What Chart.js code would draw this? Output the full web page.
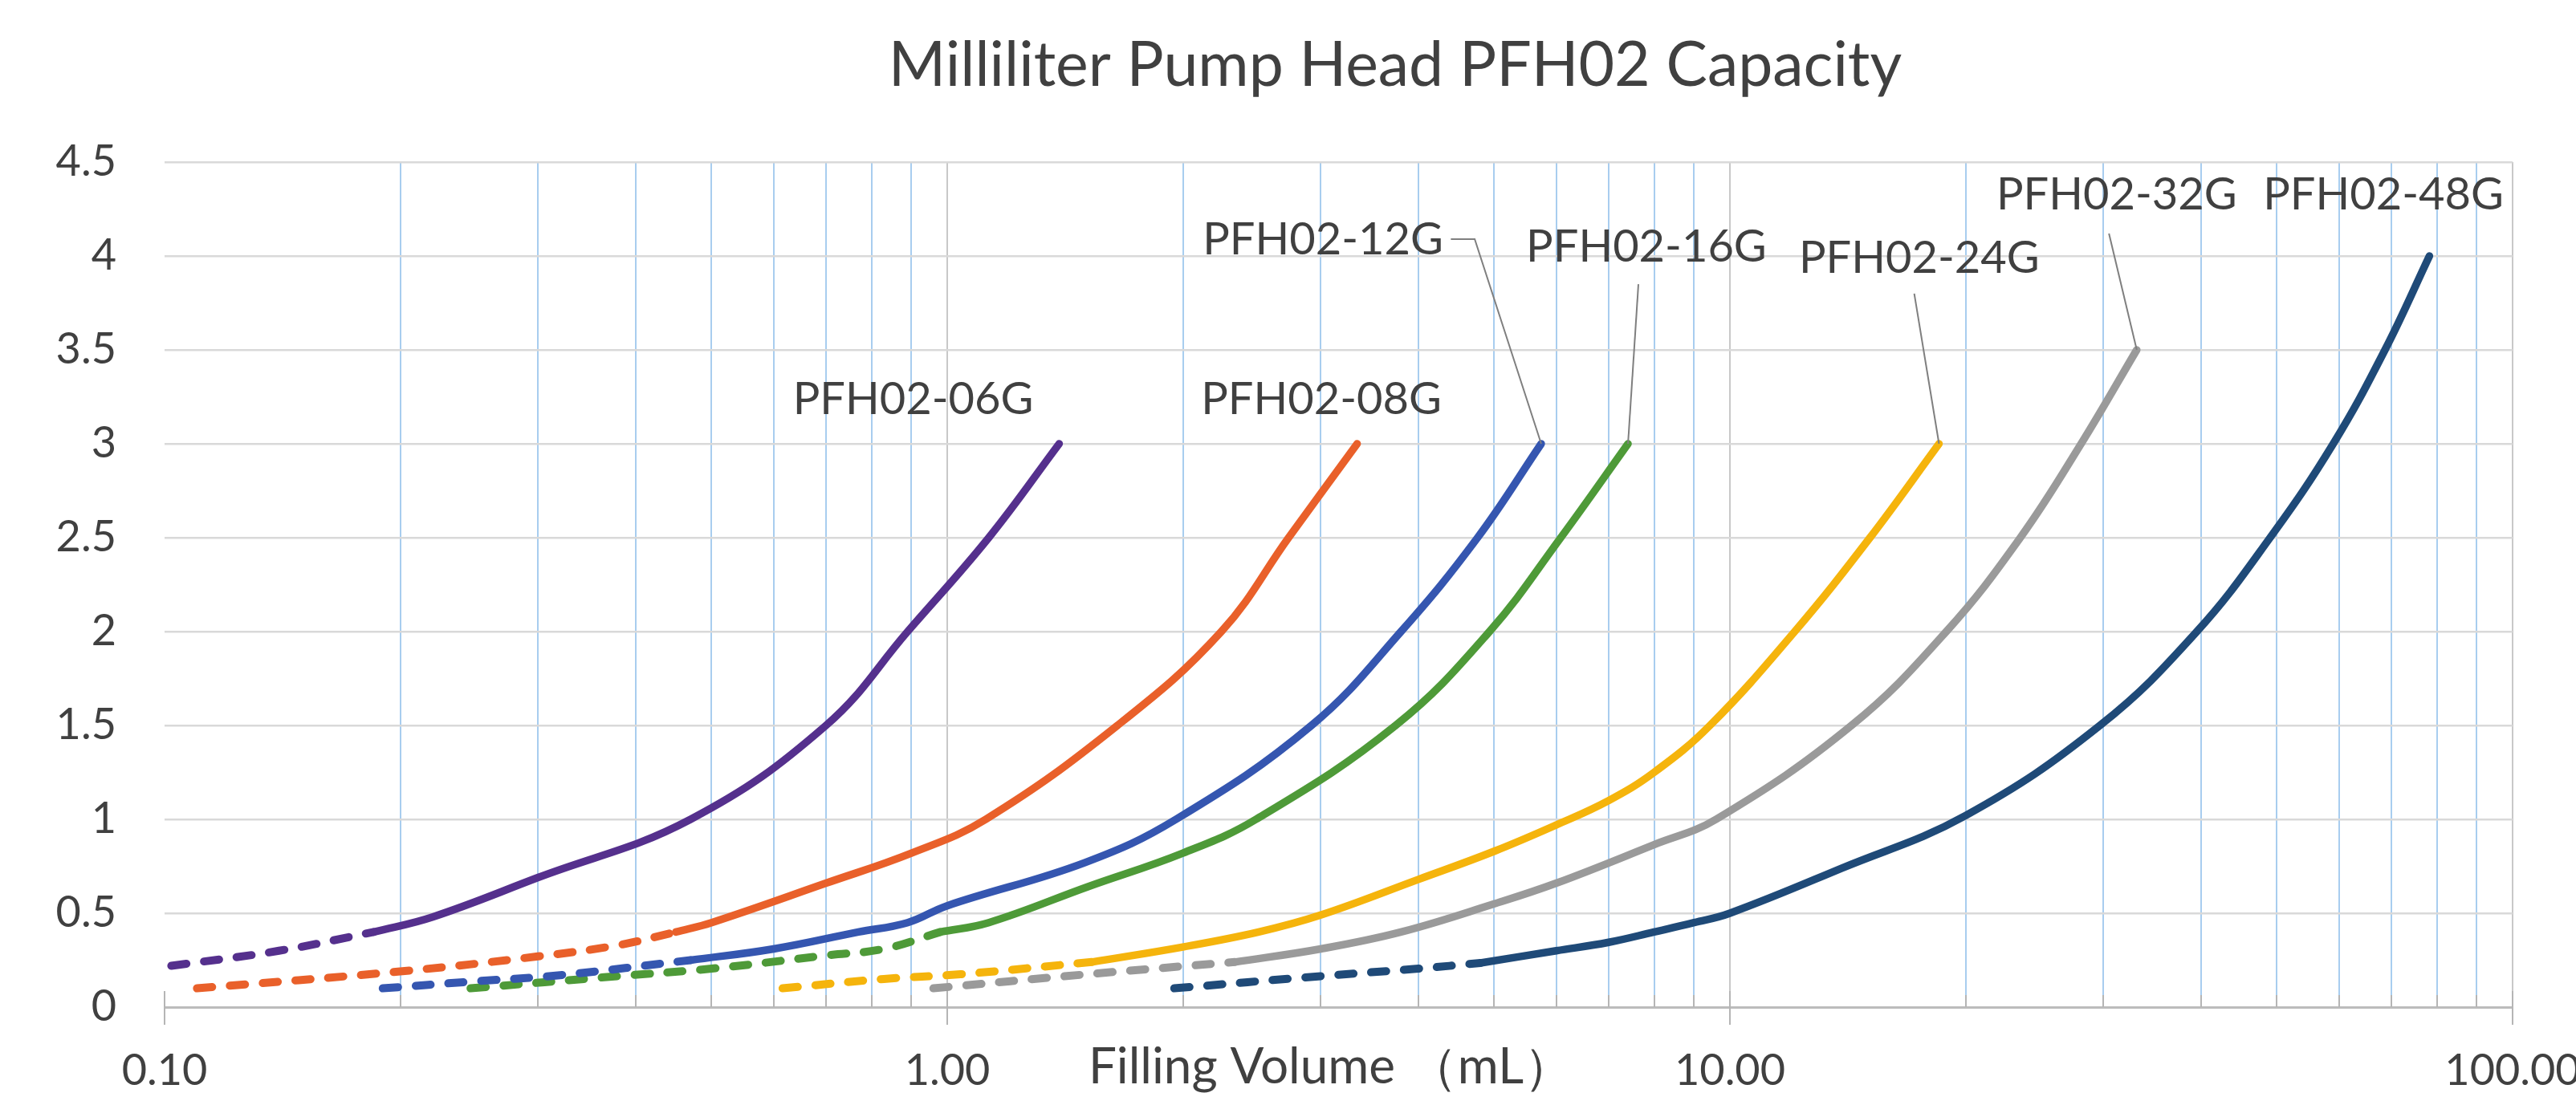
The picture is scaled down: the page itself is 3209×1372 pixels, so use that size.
<!DOCTYPE html>
<html>
<head>
<meta charset="utf-8">
<script src="https://cdn.jsdelivr.net/npm/chart.js@4/dist/chart.umd.min.js"></script>
<style>
  body { margin: 0; background: #fff; }
  canvas { display: block; }
</style>
</head>
<body>
<canvas id="myChart" width="3209" height="1372"></canvas>
<script>
// pump head models
const models = ['PFH02-06G', 'PFH02-08G', 'PFH02-12G', 'PFH02-16G', 'PFH02-24G', 'PFH02-32G', 'PFH02-48G'];

// [filling volume mL, value] - dashed (low) part and solid part
const dash06 = [[0.102, 0.22], [0.14, 0.30], [0.185, 0.40]];
const solid06 = [[0.185, 0.40], [0.22, 0.48], [0.30, 0.69], [0.47, 1.0], [0.70, 1.5], [0.89, 2.0], [1.13, 2.5], [1.39, 3.0]];

const dash08 = [[0.11, 0.10], [0.20, 0.19], [0.30, 0.27], [0.38, 0.33], [0.45, 0.40]];
const solid08 = [[0.45, 0.40], [0.50, 0.45], [0.70, 0.66], [0.90, 0.82], [1.12, 1.0], [1.65, 1.5], [2.24, 2.0], [2.73, 2.5], [3.34, 3.0]];

const dash12 = [[0.19, 0.10], [0.245, 0.135], [0.32, 0.17], [0.47, 0.25]];
const solid12 = [[0.47, 0.25], [0.60, 0.31], [0.77, 0.40], [0.89, 0.45], [1.0, 0.54], [1.5, 0.77], [1.96, 1.0], [2.92, 1.5], [3.8, 2.0], [4.76, 2.5], [5.74, 3.0]];

const dash16 = [[0.246, 0.10], [0.38, 0.165], [0.50, 0.205], [0.70, 0.275], [0.83, 0.31], [0.98, 0.40]];
const solid16 = [[0.98, 0.40], [1.13, 0.45], [1.51, 0.64], [2.0, 0.82], [2.48, 1.0], [3.74, 1.5], [4.93, 2.0], [6.08, 2.5], [7.41, 3.0]];

const dash24 = [[0.616, 0.10], [0.83, 0.15], [1.04, 0.175], [1.53, 0.24]];
const solid24 = [[1.53, 0.24], [2.0, 0.32], [2.5, 0.40], [3.0, 0.49], [4.0, 0.68], [5.0, 0.83], [6.0, 0.97], [7.0, 1.1], [8.0, 1.25], [9.43, 1.5], [12.1, 2.0], [15.1, 2.5], [18.5, 3.0]];

const dash32 = [[0.96, 0.10], [1.51, 0.175], [2.33, 0.24]];
const solid32 = [[2.33, 0.24], [3.0, 0.31], [3.8, 0.40], [5.0, 0.55], [6.0, 0.66], [8.0, 0.865], [9.6, 1.0], [14.3, 1.5], [18.9, 2.0], [23.5, 2.5], [28.1, 3.0], [33.1, 3.5]];

const dash48 = [[1.95, 0.10], [3.0, 0.165], [4.0, 0.205], [4.8, 0.235]];
const solid48 = [[4.8, 0.235], [6.0, 0.30], [7.0, 0.345], [8.0, 0.40], [9.0, 0.45], [10, 0.50], [13.9, 0.74], [20, 1.02], [29.7, 1.5], [39.5, 2.0], [49, 2.5], [59, 3.0], [68.7, 3.5], [78.3, 4.0]];

const dashParts = [dash06, dash08, dash12, dash16, dash24, dash32, dash48];
const solidParts = [solid06, solid08, solid12, solid16, solid24, solid32, solid48];

// axis ticks
const xMajor = [0.1, 1, 10, 100];
const xTickLabels = ['0.10', '1.00', '10.00', '100.00'];
const yTicks = [0, 0.5, 1, 1.5, 2, 2.5, 3, 3.5, 4, 4.5];
const yTickLabels = ['0', '0.5', '1', '1.5', '2', '2.5', '3', '3.5', '4', '4.5'];

// styles
const colors = ['#55308d', '#e9602a', '#3556b0', '#4e9a38', '#f5b40c', '#9a9a9a', '#1f4a78'];
const textColor = '#404040';
const fontName = 'Lato, "Noto Sans", sans-serif';

// where each series label sits (value coords of the text's left/baseline)
const labelAt = [[0.635, 3.16], [2.11, 3.16], [2.12, 4.01], [5.49, 3.97], [12.25, 3.91], [21.9, 4.25], [48.0, 4.25]];
// leader line start points (value coords), null = no leader
const leaders = [null, null, [[4.40, 4.09], [4.72, 4.09]], [[7.64, 3.85]], [[17.2, 3.80]], [[30.5, 4.12]], null];

// minor + major gridline values of the log axis
let xGrid = [];
for (let d = 0.1; d < 100; d *= 10) {
    for (let m = 1; m < 10; m++) {
        xGrid.push(Math.round(d * m * 1000) / 1000);
    }
}
xGrid.push(100);

function toXY(arr) {
    return arr.map(p => ({x: p[0], y: p[1]}));
}

let datasets = [];
for (let i = 0; i < models.length; i++) {
    datasets.push({
        label: models[i] + ' (low)',
        data: toXY(dashParts[i]),
        borderColor: colors[i],
        borderWidth: 10,
        borderDash: [19, 22],
        borderCapStyle: 'round',
        pointRadius: 0,
        tension: 0.4
    });
    datasets.push({
        label: models[i],
        data: toXY(solidParts[i]),
        borderColor: colors[i],
        borderWidth: 9.5,
        borderCapStyle: 'round',
        borderJoinStyle: 'round',
        pointRadius: 0,
        tension: 0.4
    });
}

// small tick marks along the x axis
const tickMarks = {
    id: 'tickMarks',
    beforeDatasetsDraw(chart) {
        const ctx = chart.ctx;
        const xs = chart.scales.x;
        const bottom = chart.chartArea.bottom;
        ctx.save();
        ctx.strokeStyle = '#b5b5b5';
        ctx.lineWidth = 2;
        xGrid.forEach(v => {
            const px = Math.round(xs.getPixelForValue(v));
            ctx.beginPath();
            if (xMajor.includes(v)) {
                ctx.moveTo(px, bottom - 20);
                ctx.lineTo(px, bottom + 22);
            } else {
                ctx.moveTo(px, bottom - 15);
                ctx.lineTo(px, bottom);
            }
            ctx.stroke();
        });
        ctx.restore();
    }
};

// title, axis title and series labels with leader lines
const textLayer = {
    id: 'textLayer',
    afterDatasetsDraw(chart) {
        const ctx = chart.ctx;
        const xs = chart.scales.x, ys = chart.scales.y;
        ctx.save();
        ctx.fillStyle = textColor;
        ctx.textBaseline = 'alphabetic';

        ctx.font = '77px ' + fontName;
        ctx.textAlign = 'center';
        ctx.fillText('Milliliter Pump Head PFH02 Capacity', 1738, 107);

        ctx.font = '62px ' + fontName;
        ctx.fillText('Filling Volume （mL）', 1658, 1350);

        // leader lines
        ctx.strokeStyle = '#7f7f7f';
        ctx.lineWidth = 2;
        for (let i = 0; i < models.length; i++) {
            if (!leaders[i]) continue;
            const end = solidParts[i][solidParts[i].length - 1];
            ctx.beginPath();
            leaders[i].forEach((p, k) => {
                const px = xs.getPixelForValue(p[0]), py = ys.getPixelForValue(p[1]);
                if (k === 0) ctx.moveTo(px, py); else ctx.lineTo(px, py);
            });
            ctx.lineTo(xs.getPixelForValue(end[0]), ys.getPixelForValue(end[1]));
            ctx.stroke();
        }

        ctx.textAlign = 'left';
        ctx.font = '56px ' + fontName;
        for (let i = 0; i < models.length; i++) {
            ctx.fillText(models[i], xs.getPixelForValue(labelAt[i][0]), ys.getPixelForValue(labelAt[i][1]));
        }
        ctx.restore();
    }
};

let ctx = document.getElementById('myChart');

let myChart = new Chart(ctx, {
    type: 'line',
    data: {datasets: datasets},
    options: {
        responsive: false,
        animation: false,
        devicePixelRatio: 1,
        layout: {padding: {left: 0, right: 79, top: 202, bottom: 0}},
        plugins: {
            legend: {display: false},
            tooltip: {enabled: false}
        },
        scales: {
            x: {
                type: 'logarithmic',
                min: 0.1,
                max: 100,
                afterBuildTicks: (scale) => {
                    scale.ticks = xGrid.map(v => ({value: v}));
                },
                afterFit: (scale) => {
                    scale.height = 117;
                    scale.paddingLeft = 0;
                    scale.paddingRight = 0;
                },
                ticks: {
                    autoSkip: false,
                    maxRotation: 0,
                    padding: 47,
                    color: textColor,
                    font: {family: fontName, size: 54},
                    callback: (value) => {
                        const k = xMajor.indexOf(value);
                        return k >= 0 ? xTickLabels[k] : '';
                    }
                },
                grid: {
                    drawTicks: false,
                    lineWidth: 2,
                    color: (c) => {
                        if (!c.tick) return 'rgba(0,0,0,0)';
                        if (c.tick.value === 0.1) return 'rgba(0,0,0,0)';
                        return xMajor.includes(c.tick.value) ? '#c8c8c8' : '#a8cdef';
                    }
                },
                border: {display: true, color: '#bcbcbc', width: 3}
            },
            y: {
                min: 0,
                max: 4.5,
                afterBuildTicks: (scale) => {
                    scale.ticks = yTicks.map(v => ({value: v}));
                },
                afterFit: (scale) => {
                    scale.width = 205;
                    scale.paddingTop = 0;
                    scale.paddingBottom = 0;
                },
                ticks: {
                    padding: 60,
                    color: textColor,
                    font: {family: fontName, size: 54},
                    callback: (value) => {
                        const k = yTicks.indexOf(value);
                        return k >= 0 ? yTickLabels[k] : '';
                    }
                },
                grid: {
                    drawTicks: false,
                    lineWidth: 2.5,
                    color: '#d9d9d9'
                },
                border: {display: false}
            }
        }
    },
    plugins: [tickMarks, textLayer]
});
</script>
</body>
</html>
